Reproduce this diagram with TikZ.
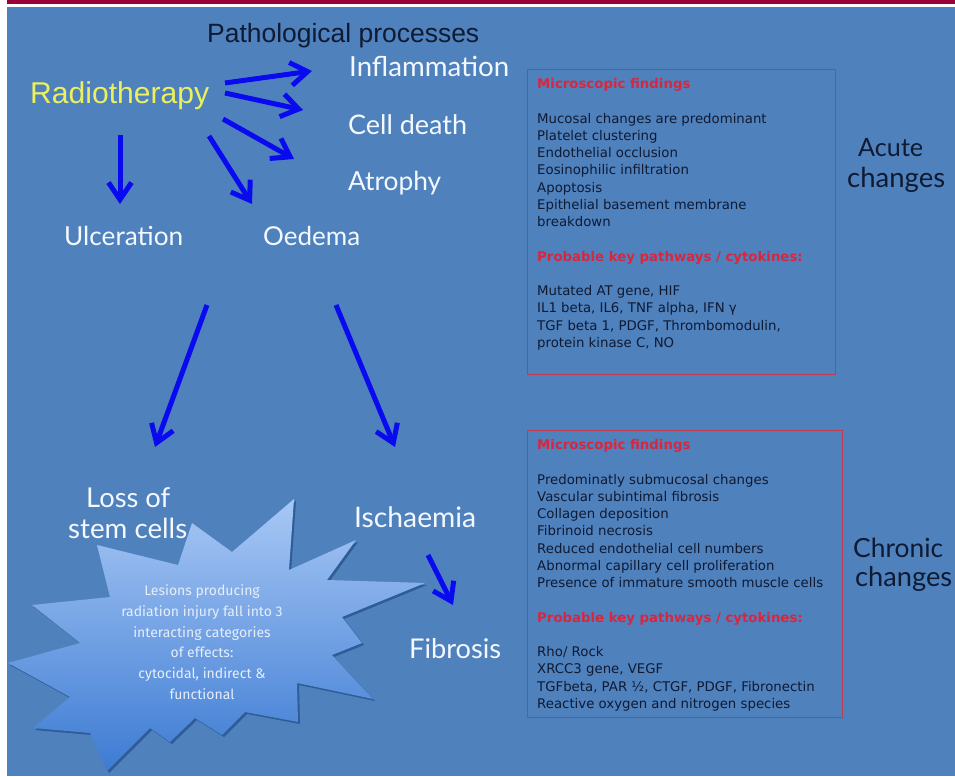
\documentclass[tikz,border=0pt]{standalone}
\usepackage{fontspec}
\usepackage{graphicx}
\setmainfont{DejaVu Sans}
\newfontfamily\labfont{Lato}
\newfontfamily\tahfont{Liberation Sans}
\newfontfamily\starfont{Fira Sans}
\usetikzlibrary{arrows.meta}
\definecolor{bg}{HTML}{4F81BD}
\definecolor{topred}{HTML}{9B0038}
\definecolor{arrblue}{HTML}{0A0AF0}
\definecolor{boxred}{HTML}{C03A50}
\definecolor{hred}{HTML}{D9263F}
\definecolor{darktxt}{HTML}{0F1A33}
\definecolor{labwhite}{HTML}{F4F8FF}
\definecolor{rtyellow}{HTML}{EBF05C}
\definecolor{starlight}{HTML}{A8C8F5}
\definecolor{stardark}{HTML}{3D7BD3}
\definecolor{starshadow}{HTML}{2D5C97}
\definecolor{startxt}{HTML}{E6EEFA}
\newcommand{\fitw}[2]{\resizebox{#1pt}{!}{#2}}
\tikzset{
  lab/.style={anchor=base west, inner sep=0pt, font=\labfont, text=labwhite},
  arr/.style={draw=arrblue, line width=5pt, -{Straight Barb[length=17pt,width=23pt]}},
  findbox/.style={draw=boxred, line width=1.3pt, anchor=north west, inner sep=0pt},
  boxtext/.style={anchor=base west, inner sep=0pt, text=darktxt},
}
\begin{document}
\begin{tikzpicture}[x=1pt,y=-1pt]
\useasboundingbox (0,0) rectangle (955,776);
\fill[white] (0,0) rectangle (955,776);
\fill[topred] (7,0) rectangle (955,4.5);
\fill[bg] (7,7) rectangle (955,776);

% titles and labels
\node[lab, font=\tahfont, text=darktxt] (pp) at (207,43) {\fitw{272}{Pathological processes}};
\node[lab, font=\tahfont, text=rtyellow] (rt) at (30,103) {\fitw{179}{Radiotherapy}};
\node[lab] (infl) at (349,77) {\fitw{160}{Inflammation}};
\node[lab] (cd) at (348,134) {\fitw{119}{Cell death}};
\node[lab] (atr) at (348,190) {\fitw{93}{Atrophy}};
\node[lab] (ulc) at (64,245) {\fitw{119}{Ulceration}};
\node[lab] (oed) at (263,245) {\fitw{97}{Oedema}};
\node[lab] (loss1) at (86,507) {\fitw{84}{Loss of}};
\node[lab] (loss2) at (68,538) {\fitw{119}{stem cells}};
\node[lab] (isch) at (354,527) {\fitw{122}{Ischaemia}};
\node[lab] (fib) at (409,658) {\fitw{92}{Fibrosis}};
\node[lab, text=darktxt] (ac1) at (858,156) {\fitw{65}{Acute}};
\node[lab, text=darktxt] (ac2) at (847,187) {\fitw{98}{changes}};
\node[lab, text=darktxt] (ch1) at (853,557) {\fitw{90}{Chronic}};
\node[lab, text=darktxt] (ch2) at (855,586) {\fitw{97}{changes}};

% arrows
\coordinate (s1) at (225,83);  \coordinate (e1) at (312,71);
\coordinate (s2) at (225,93);  \coordinate (e2) at (303,110);
\coordinate (s3) at (223,119); \coordinate (e3) at (294,159);
\coordinate (s4) at (209,136); \coordinate (e4) at (252,204);
\coordinate (s5) at (120,135); \coordinate (e5) at (120,204);
\coordinate (s6) at (207,305); \coordinate (e6) at (155,447);
\coordinate (s7) at (336,305); \coordinate (e7) at (395,447);
\coordinate (s8) at (428,555); \coordinate (e8) at (453,605);
\foreach \i in {1,...,8} { \draw[arr] (s\i) -- (e\i); }

% star
\def\starpath{(294,499) -- (289,570) -- (356,540) -- (327,580) -- (425,583) -- (342,617) -- (362,643) -- (332,655) -- (373,699) -- (297,683) -- (298,722) -- (245,712) -- (222,735) -- (195,718) -- (170,742) -- (150,728) -- (107,771) -- (90,733) -- (33,728) -- (70,697) -- (8,663) -- (80,643) -- (32,605) -- (110,597) -- (97,545) -- (178,565) -- (192,523) -- (232,552) -- cycle}
\fill[starshadow, shift={(2pt,-2pt)}] \starpath;
\shade[top color=starlight, bottom color=stardark] \starpath;
\node[inner sep=0pt, align=center, text=startxt, font=\starfont\fontsize{14}{20.7}\selectfont] (startext) at (202,642)
 {Lesions producing\\radiation injury fall into 3\\interacting categories\\of effects:\\cytocidal, indirect \&\\functional};

% boxes
\node[findbox, minimum width=308pt, minimum height=305pt] (box1) at (527,69) {};
\node[findbox, minimum width=315pt, minimum height=287pt] (box2) at (527,430) {};
\node[boxtext] (t1) at (537,88.5) {\parbox[t]{300pt}{\fontsize{13.3}{17.25}\selectfont\leavevmode
{\color{hred}\bfseries Microscopic findings}\\[17.25pt]
Mucosal changes are predominant\\
Platelet clustering\\
Endothelial occlusion\\
Eosinophilic infiltration\\
Apoptosis\\
Epithelial basement membrane\\
breakdown\\[17.25pt]
{\color{hred}\bfseries Probable key pathways / cytokines:}\\[17.25pt]
Mutated AT gene, HIF\\
IL1 beta, IL6, TNF alpha, IFN γ\\
TGF beta 1, PDGF, Thrombomodulin,\\
protein kinase C, NO}};
\node[boxtext] (t2) at (537,449.5) {\parbox[t]{305pt}{\fontsize{13.3}{17.25}\selectfont\leavevmode
{\color{hred}\bfseries Microscopic findings}\\[17.25pt]
Predominatly submucosal changes\\
Vascular subintimal fibrosis\\
Collagen deposition\\
Fibrinoid necrosis\\
Reduced endothelial cell numbers\\
Abnormal capillary cell proliferation\\
Presence of immature smooth muscle cells\\[17.25pt]
{\color{hred}\bfseries Probable key pathways / cytokines:}\\[17.25pt]
Rho/ Rock\\
XRCC3 gene, VEGF\\
TGFbeta, PAR ½, CTGF, PDGF, Fibronectin\\
Reactive oxygen and nitrogen species}};
\end{tikzpicture}
\end{document}
